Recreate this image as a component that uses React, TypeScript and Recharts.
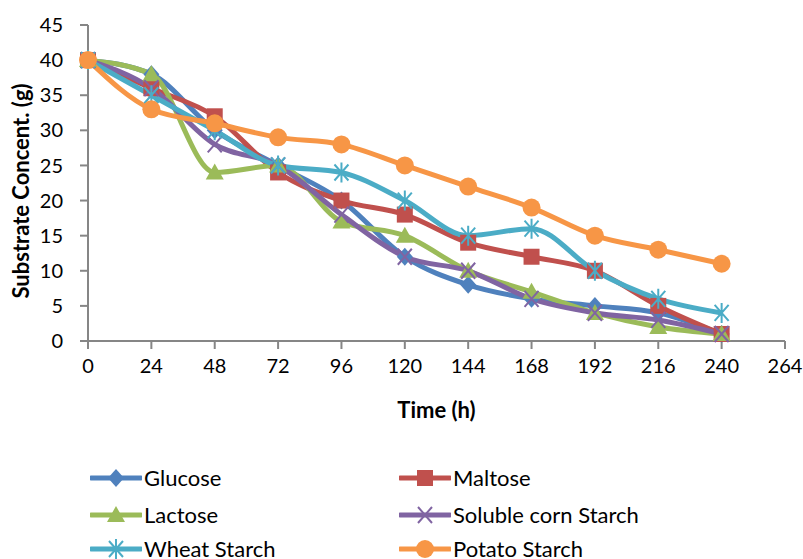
import React from "react";
import { LineChart, Line, XAxis, YAxis } from "recharts";

const times = [0, 24, 48, 72, 96, 120, 144, 168, 192, 216, 240];
const xTicks = [0, 24, 48, 72, 96, 120, 144, 168, 192, 216, 240, 264];
const yTicks = [0, 5, 10, 15, 20, 25, 30, 35, 40, 45];

const glucose = [40, 38, 30, 25, 20, 12, 8, 6, 5, 4, 1];
const maltose = [40, 36, 32, 24, 20, 18, 14, 12, 10, 5, 1];
const lactose = [40, 38, 24, 25, 17, 15, 10, 7, 4, 2, 1];
const solubleCorn = [40, 36, 28, 25, 18, 12, 10, 6, 4, 3, 1];
const wheat = [40, 35, 30, 25, 24, 20, 15, 16, 10, 6, 4];
const potato = [40, 33, 31, 29, 28, 25, 22, 19, 15, 13, 11];

const data = times.map((t, i) => ({
  time: t,
  glucose: glucose[i],
  maltose: maltose[i],
  lactose: lactose[i],
  soluble: solubleCorn[i],
  wheat: wheat[i],
  potato: potato[i],
}));

const FONT = "Lato, 'Open Sans', sans-serif";
const AXIS = "#868686";

type Shape = "diamond" | "square" | "triangle" | "x" | "star" | "circle";

function marker(shape: Shape, cx: number, cy: number, color: string) {
  switch (shape) {
    case "diamond":
      return (
        <path
          d={`M${cx} ${cy - 9}L${cx + 8} ${cy}L${cx} ${cy + 9}L${cx - 8} ${cy}Z`}
          fill={color}
        />
      );
    case "square":
      return <rect x={cx - 8} y={cy - 8} width={16} height={16} fill={color} />;
    case "triangle":
      return (
        <path
          d={`M${cx} ${cy - 9}L${cx + 9} ${cy + 7}L${cx - 9} ${cy + 7}Z`}
          fill={color}
        />
      );
    case "x":
      return (
        <path
          d={`M${cx - 7} ${cy - 8}L${cx + 7} ${cy + 8}M${cx + 7} ${cy - 8}L${cx - 7} ${cy + 8}`}
          stroke={color}
          strokeWidth={2}
        />
      );
    case "star":
      return (
        <path
          d={`M${cx - 7} ${cy - 8}L${cx + 7} ${cy + 8}M${cx + 7} ${cy - 8}L${cx - 7} ${cy + 8}M${cx} ${cy - 10}L${cx} ${cy + 10}`}
          stroke={color}
          strokeWidth={2}
        />
      );
    default:
      return <circle cx={cx} cy={cy} r={9} fill={color} />;
  }
}

const series: { key: string; name: string; color: string; shape: Shape }[] = [
  { key: "glucose", name: "Glucose", color: "#4F81BD", shape: "diamond" },
  { key: "maltose", name: "Maltose", color: "#C0504D", shape: "square" },
  { key: "lactose", name: "Lactose", color: "#9BBB59", shape: "triangle" },
  { key: "soluble", name: "Soluble corn Starch", color: "#8064A2", shape: "x" },
  { key: "wheat", name: "Wheat Starch", color: "#4BACC6", shape: "star" },
  { key: "potato", name: "Potato Starch", color: "#F79646", shape: "circle" },
];

function LegendItem({ s }: { s: (typeof series)[number] }) {
  return (
    <div style={{ display: "flex", alignItems: "center" }}>
      <svg width={52} height={22} style={{ display: "block" }}>
        <line x1={1} y1={11} x2={51} y2={11} stroke={s.color} strokeWidth={5} strokeLinecap="round" />
        {marker(s.shape, 26, 11, s.color)}
      </svg>
      <span style={{ marginLeft: 2, fontFamily: FONT, fontSize: 22, color: "#000" }}>{s.name}</span>
    </div>
  );
}

// y title: centred a touch below the plot middle, like the source
function YTitle(props: any) {
  const vb = props.viewBox || {};
  const cx = 20;
  const cy = vb.y + vb.height / 2 + 8;
  return (
    <text
      x={cx}
      y={cy}
      transform={`rotate(-90 ${cx} ${cy})`}
      textAnchor="middle"
      dominantBaseline="central"
      style={{ fill: "#000", fontFamily: FONT, fontSize: 22, fontWeight: 700 }}
    >
      Substrate Concent. (g)
    </text>
  );
}

export default function App() {
  return (
    <div style={{ position: "absolute", left: 0, top: 0, width: 803, height: 559, background: "#fff", overflow: "hidden" }}>
      <LineChart width={803} height={430} data={data} margin={{ top: 25, right: 18, bottom: 9, left: 0 }}>
        <XAxis
          dataKey="time"
          type="number"
          domain={[0, 264]}
          ticks={xTicks}
          interval={0}
          stroke={AXIS}
          strokeWidth={2}
          tickSize={8}
          tickMargin={10}
          height={80}
          tick={{ fill: "#000", fontFamily: FONT, fontSize: 20 }}
          label={{
            value: "Time (h)",
            position: "insideBottom",
            offset: 3,
            style: { fill: "#000", fontFamily: FONT, fontSize: 22, fontWeight: 700 },
          }}
        />
        <YAxis
          type="number"
          domain={[0, 45]}
          ticks={yTicks}
          interval={0}
          stroke={AXIS}
          strokeWidth={2}
          tickSize={8}
          tickMargin={17}
          width={88}
          tick={{ fill: "#000", fontFamily: FONT, fontSize: 20 }}
          label={{ content: YTitle }}
        />
        {series.map((s) => (
          <Line
            key={s.key}
            dataKey={s.key}
            name={s.name}
            type="monotone"
            stroke={s.color}
            strokeWidth={5}
            isAnimationActive={false}
            dot={(p: any) => <g key={`${s.key}-${p.index}`}>{marker(s.shape, p.cx, p.cy, s.color)}</g>}
            activeDot={false}
          />
        ))}
      </LineChart>
      {series.map((s, i) => (
        <div
          key={s.key}
          style={{
            position: "absolute",
            left: i % 2 === 0 ? 90 : 399,
            top: [464, 501, 535][Math.floor(i / 2)],
          }}
        >
          <LegendItem s={s} />
        </div>
      ))}
    </div>
  );
}
